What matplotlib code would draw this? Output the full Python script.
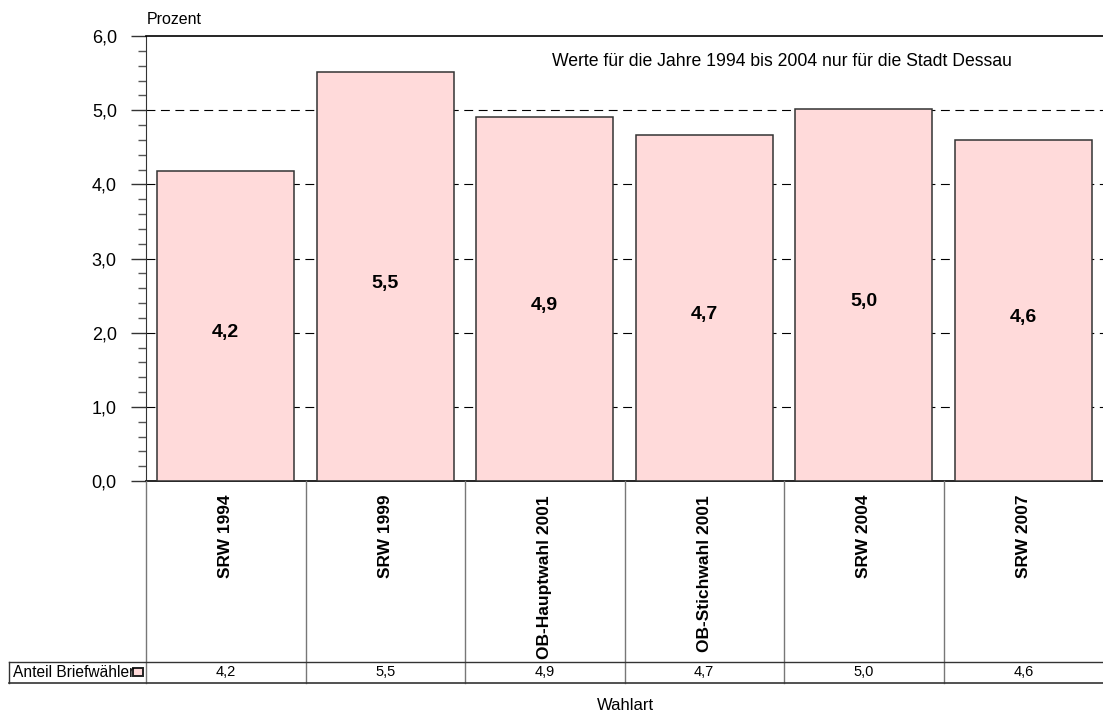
import matplotlib.pyplot as plt
from matplotlib.patches import Rectangle
from matplotlib.ticker import MultipleLocator, FuncFormatter

plt.rcParams['font.family'] = ['Liberation Sans', 'DejaVu Sans']

# --- DADOS ---
wahlen = ['SRW 1994', 'SRW 1999', 'OB-Hauptwahl 2001', 'OB-Stichwahl 2001', 'SRW 2004', 'SRW 2007']
anteil = [4.18, 5.52, 4.91, 4.67, 5.02, 4.60]
reihe = 'Anteil Briefwähler'
hinweis = 'Werte für die Jahre 1994 bis 2004 nur für die Stadt Dessau'

W, H = 1103, 715
BAR = '#ffdada'


def komma(v, pos=None):
    return f'{v:.1f}'.replace('.', ',')


fig = plt.figure(figsize=(W / 100, H / 100), dpi=100)

# Hauptdiagramm
ax = fig.add_axes([146 / W, (H - 481) / H, (W - 146) / W, (481 - 36) / H])
x = list(range(len(wahlen)))
ax.bar(x, anteil, width=0.86, color=BAR, edgecolor='#333333', linewidth=1.1, zorder=3)
ax.set_xlim(-0.5, len(wahlen) - 0.5)
ax.set_ylim(0, 6)
ax.yaxis.set_major_locator(MultipleLocator(1))
ax.yaxis.set_minor_locator(MultipleLocator(0.2))
ax.yaxis.set_major_formatter(FuncFormatter(komma))
ax.tick_params(axis='y', which='major', direction='out', length=11, width=1, pad=10,
               labelsize=13, color='#333333')
ax.tick_params(axis='y', which='minor', direction='out', length=6, width=1, color='#555555')
ax.set_xticks([])
for y in range(1, 6):
    ax.axhline(y, color='black', lw=0.8, linestyle=(0, (8, 5)), zorder=1)
ax.spines['right'].set_visible(False)
ax.spines['top'].set_linewidth(1.2)
ax.spines['left'].set_color('#333333')
ax.spines['bottom'].set_linewidth(1.2)

# Werte in den Balken (etwas unter der Mitte)
for xi, v in zip(x, anteil):
    ax.annotate(komma(v), (xi, v / 2), xytext=(0, -5), textcoords='offset points',
                ha='center', va='center', fontsize=14, fontweight='bold', zorder=4)

fig.text(552 / W, 1 - 61 / H, hinweis, ha='left', va='center', fontsize=12.7)
fig.text(147 / W, 1 - 20 / H, 'Prozent', ha='left', va='center', fontsize=11.5)

# Tabelle unter dem Diagramm
tax = fig.add_axes([146 / W, (H - 683) / H, (W - 146) / W, (683 - 481) / H])
tax.set_xlim(-0.5, len(wahlen) - 0.5)
tax.set_ylim(202, 0)
tax.axis('off')


def px(xp):
    # Pixelposition -> Datenkoordinate der Tabelle
    return -0.5 + (xp - 146) / ((W - 146) / len(wahlen))


for b in [i - 0.5 for i in range(len(wahlen))]:
    tax.plot([b, b], [0, 202], color='#777777', lw=1, clip_on=False)
tax.plot([px(9), len(wahlen) - 0.5], [181, 181], color='#333333', lw=1, clip_on=False)
tax.plot([px(9), len(wahlen) - 0.5], [202, 202], color='#333333', lw=1.2, clip_on=False)
tax.plot([px(9), px(9)], [181, 202], color='#333333', lw=1, clip_on=False)

for xi, name, v in zip(x, wahlen, anteil):
    tax.text(xi, 14, name, rotation=90, ha='center', va='top', fontsize=12.5,
             fontweight='bold')
    tax.text(xi, 191.5, komma(v), ha='center', va='center', fontsize=10.5)

tax.text(px(13), 191.5, reihe, ha='left', va='center', fontsize=11.2, clip_on=False)
tax.add_patch(Rectangle((px(133), 187), px(143) - px(133), 8, facecolor=BAR,
                        edgecolor='#222222', lw=1.4, clip_on=False))

fig.text(625 / W, 1 - 706 / H, 'Wahlart', ha='center', va='center', fontsize=12)

plt.savefig('out.png', dpi=100)
